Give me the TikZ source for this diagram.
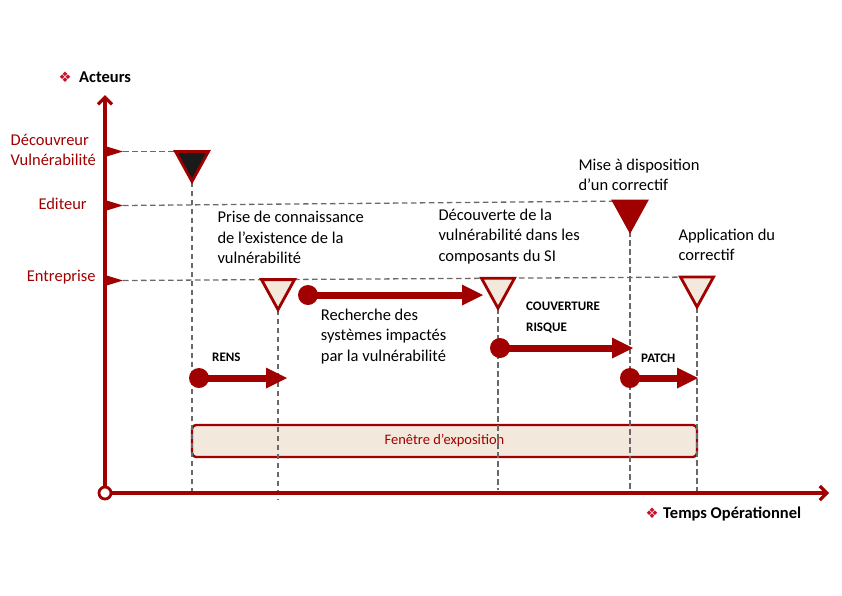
\documentclass[tikz,border=0pt]{standalone}
\usepackage{fontspec}
\setmainfont{Carlito}
\newfontfamily\dejavu{DejaVu Sans}
\usetikzlibrary{arrows.meta}
\definecolor{dred}{RGB}{160,0,0}
\definecolor{beige}{RGB}{242,233,220}
\definecolor{dashgray}{RGB}{105,105,105}
\definecolor{bulletred}{RGB}{200,16,46}
\definecolor{nearblack}{RGB}{26,26,26}
\begin{document}
\begin{tikzpicture}[x=1pt,y=-1pt,
  axis/.style={dred, line width=3.2pt},
  guide/.style={dashgray, line width=1.3pt, dash pattern=on 5.5pt off 3.5pt},
  flagmark/.style={fill=dred, draw=none},
  evtri/.style={draw=dred, line width=2.8pt, line join=miter},
  dot/.style={circle, fill=dred, minimum size=20pt, inner sep=0pt},
  bigarrow/.style={dred, line width=7pt, -{Triangle[length=21pt,width=21pt,line width=0pt]}},
  lbl/.style={anchor=base west, inner sep=0pt, font=\fontsize{16.5}{20}\selectfont},
  actor/.style={lbl, text=dred},
  headlbl/.style={lbl, font=\fontsize{16.5}{20}\selectfont\bfseries},
  tag/.style={anchor=base west, inner sep=0pt, font=\fontsize{13}{15}\selectfont\bfseries},
  bullet/.style={inner sep=0pt, text=bulletred, font=\dejavu\fontsize{14.5}{14.5}\selectfont},
  winbox/.style={draw=dred, line width=2.4pt, fill=beige, rounded corners=4pt}
]
\useasboundingbox (0,0) rectangle (842,595);

% exposure window
\draw[winbox] (192,425) rectangle (697,457);
\node[inner sep=0pt, text=dred, font=\fontsize{14.5}{16}\selectfont] (fenetre) at (444.5,441) {Fenêtre d’exposition};

% coordinates
\coordinate (O) at (105,493);
\coordinate (ytip) at (105,95);
\coordinate (xtip) at (829,493);
\coordinate (fDec) at (123,151.5);
\coordinate (fEdi) at (123,205.5);
\coordinate (fEnt) at (123,280.5);
\coordinate (t1) at (192,151.5);
\coordinate (t2) at (278,279.6);
\coordinate (t3) at (498,278.2);
\coordinate (t4) at (630,201);
\coordinate (t5) at (697,277);

% horizontal guides
\draw[guide] (fDec) -- (t1);
\draw[guide] (fEdi) -- (t4);
\draw[guide] (fEnt) -- (t5);

% vertical guides
\draw[guide] ([yshift=-30pt]t1) -- (192,493);
\draw[guide] ([yshift=-30pt]t2) -- (278,500);
\draw[guide] ([yshift=-30pt]t3) -- (498,490);
\draw[guide] ([yshift=-30pt]t4) -- (630,493);
\draw[guide] ([yshift=-30pt]t5) -- (697,494);

% axes
\draw[axis, -{Straight Barb[length=7pt,width=14pt]}] (O) -- (ytip);
\draw[axis, -{Straight Barb[length=7pt,width=14pt]}] (O) -- (xtip);
\draw[dred, line width=2.8pt, fill=white] (O) circle (6pt);

% actor flags
\fill[flagmark] (105,146) -- (fDec) -- (105,157) -- cycle;
\fill[flagmark] (105,200) -- (fEdi) -- (105,211) -- cycle;
\fill[flagmark] (105,275) -- (fEnt) -- (105,286) -- cycle;

% event triangles
\draw[evtri, fill=nearblack] ([xshift=-16.5pt]t1) -- ([xshift=16.5pt]t1) -- ([yshift=-30pt]t1) -- cycle;
\draw[evtri, fill=beige] ([xshift=-16.5pt]t2) -- ([xshift=16.5pt]t2) -- ([yshift=-30pt]t2) -- cycle;
\draw[evtri, fill=beige] ([xshift=-16.5pt]t3) -- ([xshift=16.5pt]t3) -- ([yshift=-30pt]t3) -- cycle;
\draw[evtri, fill=dred] ([xshift=-16.5pt]t4) -- ([xshift=16.5pt]t4) -- ([yshift=-30pt]t4) -- cycle;
\draw[evtri, fill=beige] ([xshift=-16.5pt]t5) -- ([xshift=16.5pt]t5) -- ([yshift=-30pt]t5) -- cycle;

% phase arrows
\node[dot] (rensS) at (199,378) {};
\coordinate (rensE) at (287,378);
\draw[bigarrow] (rensS.center) -- (rensE);
\node[dot] (rechS) at (308,295) {};
\coordinate (rechE) at (483,295);
\draw[bigarrow] (rechS.center) -- (rechE);
\node[dot] (couvS) at (500,348) {};
\coordinate (couvE) at (633,348);
\draw[bigarrow] (couvS.center) -- (couvE);
\node[dot] (patchS) at (630,378) {};
\coordinate (patchE) at (698,378);
\draw[bigarrow] (patchS.center) -- (patchE);

% axis titles
\node[bullet] (b1) at (65,77) {❖};
\node[headlbl] (acteurs) at (79,82.7) {Acteurs};
\node[bullet] (b2) at (652,513) {❖};
\node[headlbl] (temps) at (663,518.3) {Temps Opérationnel};

% actor labels
\node[actor] (dec1) at (10.5,145) {Découvreur};
\node[actor] (dec2) at (10.5,165) {Vulnérabilité};
\node[actor] (edi) at (38.3,209) {Editeur};
\node[actor] (ent) at (26.7,281.7) {Entreprise};

% event labels
\node[lbl] (pr1) at (217.3,222.7) {Prise de connaissance};
\node[lbl] (pr2) at (217.3,243.2) {de l’existence de la};
\node[lbl] (pr3) at (217.3,263.7) {vulnérabilité};
\node[lbl] (dc1) at (438.3,220) {Découverte de la};
\node[lbl] (dc2) at (438.3,240.5) {vulnérabilité dans les};
\node[lbl] (dc3) at (438.3,261) {composants du SI};
\node[lbl] (mi1) at (578.3,170) {Mise à disposition};
\node[lbl] (mi2) at (578.3,190.5) {d’un correctif};
\node[lbl] (ap1) at (678.3,240) {Application du};
\node[lbl] (ap2) at (678.3,260.7) {correctif};
\node[lbl] (re1) at (320.7,320) {Recherche des};
\node[lbl] (re2) at (320.7,340.5) {systèmes impactés};
\node[lbl] (re3) at (320.7,361) {par la vulnérabilité};

% phase tags
\node[tag] (rens) at (212,361.5) {RENS};
\node[tag] (couv1) at (526,310.7) {COUVERTURE};
\node[tag] (couv2) at (526,331.7) {RISQUE};
\node[tag] (patch) at (641,362.7) {PATCH};
\end{tikzpicture}
\end{document}
